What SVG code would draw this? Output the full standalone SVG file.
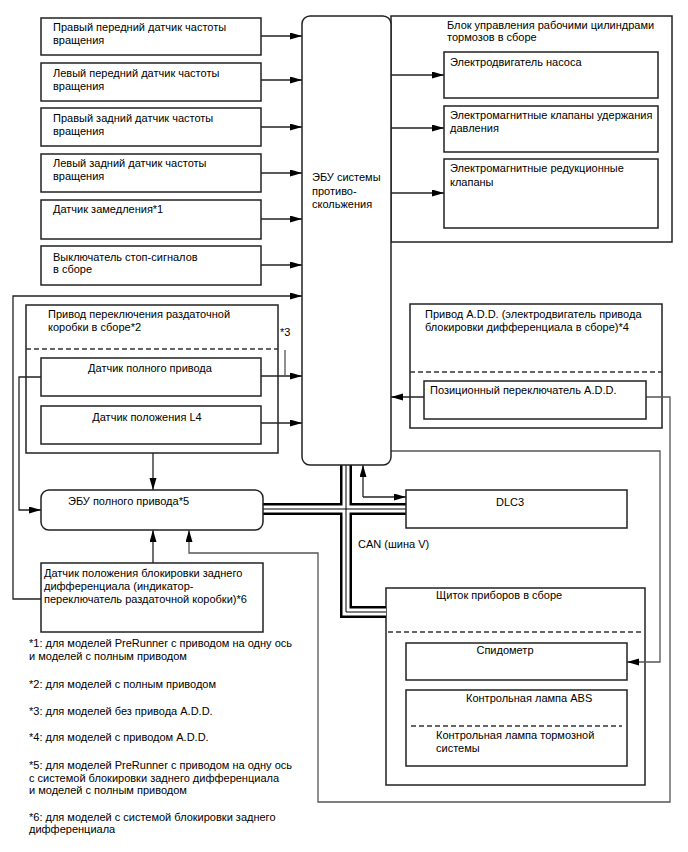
<svg xmlns="http://www.w3.org/2000/svg" width="688" height="852" viewBox="0 0 688 852">
<defs>
<marker id="ah" markerUnits="userSpaceOnUse" markerWidth="13" markerHeight="8" refX="12" refY="3.5" orient="auto">
<path d="M0,0 L12,3.5 L0,7 z" fill="#000"/>
</marker>
<style>
text{font-family:"Liberation Sans",Arial,sans-serif;font-size:11px;fill:#000}
.box{fill:#fff;stroke:#222;stroke-width:1.5}
.frame{fill:none;stroke:#222;stroke-width:1.5}
.dash{fill:none;stroke:#333;stroke-width:1.3;stroke-dasharray:5,3}
.ln{fill:none;stroke:#222;stroke-width:1.3}
.gl{fill:none;stroke:#555;stroke-width:1.3}
.arr{marker-end:url(#ah)}
.busO{fill:none;stroke:#000;stroke-width:12}
.busI{fill:none;stroke:#fff;stroke-width:7}
.busC{fill:none;stroke:#000;stroke-width:1}
.mid{text-anchor:middle}
</style>
</defs>
<rect width="688" height="852" fill="#fff"/>

<!-- containers -->
<g id="brake-actuator">
<rect class="frame" x="391" y="16" width="281" height="226"/>
<text x="447" y="29">Блок управления рабочими цилиндрами</text>
<text x="447" y="41">тормозов в сборе</text>
</g>
<g id="transfer-actuator">
<rect class="frame" x="26" y="305" width="252" height="148"/>
<text x="48" y="318">Привод переключения раздаточной</text>
<text x="48" y="331">коробки в сборе*2</text>
<line class="dash" x1="26" y1="349" x2="278" y2="349"/>
</g>
<g id="add-actuator">
<rect class="frame" x="410" y="304" width="252" height="124"/>
<text x="425" y="318">Привод A.D.D. (электродвигатель привода</text>
<text x="425" y="331">блокировки дифференциала в сборе)*4</text>
<line class="dash" x1="410" y1="372" x2="662" y2="372"/>
</g>
<g id="combination-meter">
<rect class="frame" x="386" y="588" width="259" height="197"/>
<text x="436" y="599">Щиток приборов в сборе</text>
<line class="dash" x1="388" y1="632" x2="643" y2="632"/>
</g>

<!-- connectors -->
<g id="connectors">
<line class="ln arr" x1="261" y1="36" x2="302" y2="36"/>
<line class="ln arr" x1="261" y1="80" x2="302" y2="80"/>
<line class="ln arr" x1="261" y1="127" x2="302" y2="127"/>
<line class="ln arr" x1="261" y1="173" x2="302" y2="173"/>
<line class="ln arr" x1="261" y1="219" x2="302" y2="219"/>
<line class="ln arr" x1="261" y1="265" x2="302" y2="265"/>
<line class="ln arr" x1="391" y1="75" x2="444" y2="75"/>
<line class="ln arr" x1="391" y1="128" x2="444" y2="128"/>
<line class="ln arr" x1="391" y1="193" x2="444" y2="193"/>
<polyline class="ln arr" points="41,599 13,599 13,296 302,296"/>
<line class="ln arr" x1="261" y1="376" x2="302" y2="376"/>
<line class="gl" x1="285" y1="350" x2="285" y2="376"/>
<line class="ln arr" x1="261" y1="423" x2="302" y2="423"/>
<polyline class="ln arr" points="41,377 19,377 19,510 41,510"/>
<line class="ln arr" x1="153" y1="453" x2="153" y2="490"/>
<line class="ln arr" x1="153" y1="563" x2="153" y2="530"/>
<polyline class="gl arr" points="670,397 646,397 670,397 670,802 318,802 318,553 189,553 189,530"/>
<line class="ln arr" x1="424" y1="397" x2="391" y2="397"/>
<polyline class="gl arr" points="391,451 660,451 660,662 627,662"/>
<line class="ln arr" x1="363" y1="497" x2="363" y2="465"/>
<line class="ln arr" x1="363" y1="497" x2="406" y2="497"/>
<path class="busO" d="M263,509 H406 M346,465 V612 H386"/>
<path class="busI" d="M263,509 H406 M346,465 V612 H386"/>
<path class="busC" d="M263,509 H406 M346,465 V612 H386"/>
<text x="358" y="548">CAN (шина V)</text>
<text x="280" y="336">*3</text>
</g>

<!-- nodes -->
<g id="rf-sensor"><rect class="box" x="41" y="18" width="220" height="37"/><text x="53" y="30.5">Правый передний датчик частоты</text><text x="53" y="44">вращения</text></g>
<g id="lf-sensor"><rect class="box" x="41" y="63" width="220" height="38"/><text x="53" y="76.5">Левый передний датчик частоты</text><text x="53" y="90">вращения</text></g>
<g id="rr-sensor"><rect class="box" x="41" y="108" width="220" height="38"/><text x="53" y="122">Правый задний датчик частоты</text><text x="53" y="135">вращения</text></g>
<g id="lr-sensor"><rect class="box" x="41" y="154" width="220" height="38"/><text x="53" y="167">Левый задний датчик частоты</text><text x="53" y="180">вращения</text></g>
<g id="decel-sensor"><rect class="box" x="41" y="200" width="220" height="39"/><text x="53" y="213">Датчик замедления*1</text></g>
<g id="stop-switch"><rect class="box" x="41" y="246" width="220" height="39"/><text x="53" y="260.5">Выключатель стоп-сигналов</text><text x="53" y="273">в сборе</text></g>

<g id="abs-ecu"><rect class="box" x="302" y="16" width="89" height="449" rx="8"/><text x="312" y="181">ЭБУ системы</text><text x="312" y="195">противо-</text><text x="312" y="208">скольжения</text></g>

<g id="pump-motor"><rect class="box" x="444" y="52" width="214" height="46"/><text x="450" y="66">Электродвигатель насоса</text></g>
<g id="hold-valves"><rect class="box" x="444" y="106" width="214" height="46"/><text x="450" y="119">Электромагнитные клапаны удержания</text><text x="450" y="132">давления</text></g>
<g id="reduce-valves"><rect class="box" x="444" y="159" width="214" height="69"/><text x="450" y="172">Электромагнитные редукционные</text><text x="450" y="186">клапаны</text></g>

<g id="4wd-sensor"><rect class="box" x="41" y="358" width="220" height="38"/><text class="mid" x="150" y="372">Датчик полного привода</text></g>
<g id="l4-sensor"><rect class="box" x="41" y="406" width="220" height="38"/><text class="mid" x="147" y="421">Датчик положения L4</text></g>

<g id="add-switch"><rect class="box" x="424" y="381" width="222" height="38"/><text x="430" y="394">Позиционный переключатель A.D.D.</text></g>

<g id="4wd-ecu"><rect class="box" x="41" y="490" width="222" height="40" rx="8"/><text x="68" y="505">ЭБУ полного привода*5</text></g>
<g id="dlc3"><rect class="box" x="406" y="490" width="221" height="38"/><text class="mid" x="510" y="506">DLC3</text></g>

<g id="rear-diff-sensor"><rect class="box" x="41" y="563" width="222" height="69"/><text x="44" y="577">Датчик положения блокировки заднего</text><text x="44" y="590">дифференциала (индикатор-</text><text x="44" y="603">переключатель раздаточной коробки)*6</text></g>

<g id="speedometer"><rect class="box" x="406" y="643" width="221" height="37"/><text class="mid" x="505" y="654">Спидометр</text></g>
<g id="abs-lamp"><rect class="box" x="406" y="690" width="221" height="76"/><text x="466" y="702">Контрольная лампа ABS</text><line class="dash" x1="411" y1="726" x2="622" y2="726"/><text x="436" y="739">Контрольная лампа тормозной</text><text x="436" y="752">системы</text></g>

<g id="footnotes">
<text x="29" y="647">*1: для моделей PreRunner с приводом на одну ось</text>
<text x="29" y="660">и моделей с полным приводом</text>
<text x="29" y="688">*2: для моделей с полным приводом</text>
<text x="29" y="715">*3: для моделей без привода A.D.D.</text>
<text x="29" y="741">*4: для моделей с приводом A.D.D.</text>
<text x="29" y="769">*5: для моделей PreRunner с приводом на одну ось</text>
<text x="29" y="782">с системой блокировки заднего дифференциала</text>
<text x="29" y="794">и моделей с полным приводом</text>
<text x="29" y="821">*6: для моделей с системой блокировки заднего</text>
<text x="29" y="833">дифференциала</text>
</g>
</svg>
